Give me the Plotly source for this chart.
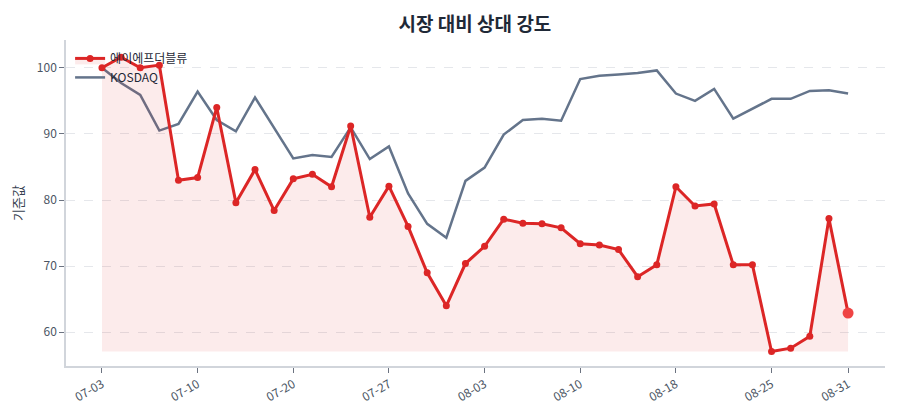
import plotly.graph_objects as go

dates = ["07-03", "07-04", "07-05", "07-06", "07-07", "07-10", "07-12", "07-14", "07-17", "07-18",
         "07-20", "07-21", "07-24", "07-25", "07-26", "07-27", "07-28", "07-31", "08-01", "08-02",
         "08-03", "08-04", "08-07", "08-08", "08-09", "08-10", "08-11", "08-14", "08-16", "08-17",
         "08-18", "08-21", "08-22", "08-23", "08-24", "08-25", "08-28", "08-29", "08-30", "08-31"]

stock = [100.0, 101.6, 100.0, 100.4, 83.0, 83.4, 94.0, 79.6, 84.6, 78.4,
         83.2, 83.9, 82.0, 91.2, 77.4, 82.1, 76.0, 69.0, 64.0, 70.4,
         73.0, 77.1, 76.5, 76.4, 75.8, 73.4, 73.2, 72.5, 68.4, 70.2,
         82.0, 79.1, 79.4, 70.2, 70.2, 57.1, 57.6, 59.4, 77.2, 62.9]

kosdaq = [100.0, 97.7, 95.9, 90.5, 91.5, 96.4, 92.1, 90.4, 95.5, 91.0,
          86.3, 86.8, 86.5, 91.0, 86.2, 88.1, 81.0, 76.4, 74.3, 82.9,
          84.9, 89.9, 92.1, 92.3, 92.0, 98.3, 98.8, 99.0, 99.2, 99.6,
          96.1, 95.0, 96.8, 92.3, 93.8, 95.3, 95.3, 96.5, 96.6, 96.1]

tick_labels = ["07-03", "07-10", "07-20", "07-27", "08-03", "08-10", "08-18", "08-25", "08-31"]

stock_name = "에이에프더블류"
bench_name = "KOSDAQ"

RED = "#dc2626"
GRAY = "#64748b"
FONT = "Noto Sans CJK KR, Noto Sans, sans-serif"

base = min(stock)

fig = go.Figure()

fig.add_trace(go.Scatter(
    x=dates, y=kosdaq, mode="lines", name=bench_name,
    line=dict(color=GRAY, width=2.5), legendrank=2,
))

fig.add_trace(go.Scatter(
    x=dates, y=[base] * len(dates), mode="lines",
    line=dict(width=0, color="rgba(0,0,0,0)"), showlegend=False, hoverinfo="skip",
))

fig.add_trace(go.Scatter(
    x=dates, y=stock, mode="lines+markers", name=stock_name,
    line=dict(color=RED, width=3), marker=dict(size=7, color=RED),
    fill="tonexty", fillcolor="rgba(220,38,38,0.09)", legendrank=1,
))

fig.add_trace(go.Scatter(
    x=[dates[-1]], y=[stock[-1]], mode="markers",
    marker=dict(size=11, color="#ef4444"), showlegend=False,
))

fig.update_layout(
    width=892, height=412,
    margin=dict(l=58, r=15, t=32, b=54, autoexpand=False),
    paper_bgcolor="white", plot_bgcolor="white",
    font=dict(family=FONT, size=12, color="#4b5563"),
    title=dict(text="<b>시장 대비 상대 강도</b>", x=0.5235, xanchor="center", y=0.96, yanchor="middle",
               font=dict(size=19, color="#1f2937", family=FONT)),
    legend=dict(x=0.005, y=0.988, xanchor="left", yanchor="top", bgcolor="rgba(0,0,0,0)",
                traceorder="normal",
                font=dict(size=12, color="#1f2937"), tracegroupgap=0, itemwidth=30),
    showlegend=True,
)

fig.update_xaxes(
    type="category", range=[-1.88, 40.93], automargin=False,
    tickmode="array", tickvals=tick_labels, ticktext=tick_labels,
    tickangle=-30, ticks="outside", ticklen=5, tickcolor="#6b7280",
    showline=True, linecolor="#d1d5db", linewidth=1.5,
    showgrid=False, zeroline=False, tickfont=dict(size=12, color="#4b5563"),
)

fig.update_yaxes(
    range=[54.9, 104.2], tickvals=[60, 70, 80, 90, 100], automargin=False,
    ticks="outside", ticklen=5, tickcolor="#6b7280",
    showline=True, linecolor="#d1d5db", linewidth=1.5,
    showgrid=True, gridcolor="#e5e7eb", griddash="dash", gridwidth=1,
    zeroline=False, tickfont=dict(size=12, color="#4b5563"),
    title=dict(text="기준값", font=dict(size=13, color="#374151"), standoff=14),
)

fig.write_html("out.html")
